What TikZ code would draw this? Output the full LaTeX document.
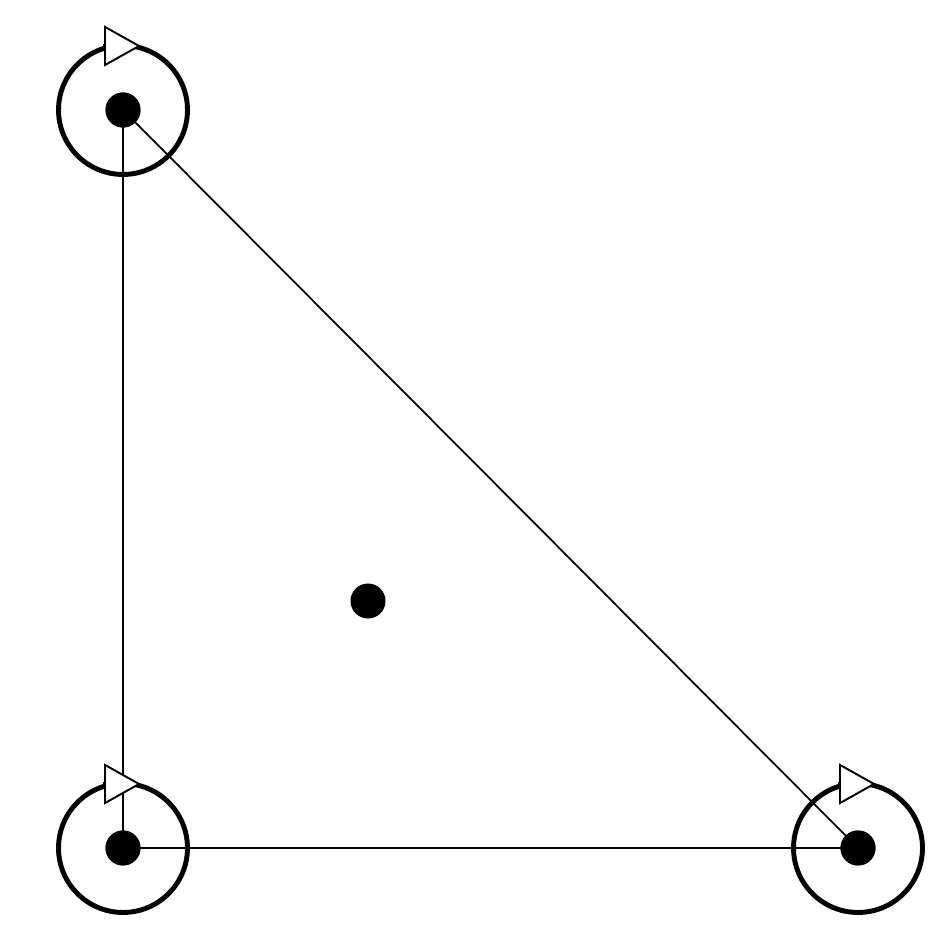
\documentclass[tikz,border=0pt]{standalone}
\usetikzlibrary{arrows.meta}
\tikzstyle{dotnode} = [circle, fill=black, inner sep=0pt, minimum size=0.7cm]
\tikzstyle{ring} = [line width=2.8pt]
\tikzstyle{spin} = [line width=2.8pt, -{Triangle[fill=white, length=7.4mm, width=8.2mm, line width=1.1pt]}]
\tikzstyle{edge} = [line width=1pt]

\begin{document}
\begin{tikzpicture}[x=0.02cm, y=0.02cm]
        \useasboundingbox (0,0) rectangle (951,952);
        \node (top) [dotnode] at (123,842) {};
        \node (botleft) [dotnode] at (123,104) {};
        \node (botright) [dotnode] at (858,104) {};
        \node (mid) [dotnode] at (368,351) {};

        \draw [edge] (top.center) -- (botleft.center);
        \draw [edge] (botleft.center) -- (botright.center);
        \draw [edge] (top.center) -- (botright.center);

        % rings with rotation arrows
        \foreach \v in {top, botleft, botright} {
            \draw [ring] (\v.center) circle (1.29cm);
            \draw [spin] ([shift={(-20,64)}]\v.center) -- ([shift={(18,64)}]\v.center);
            \node [dotnode] at (\v.center) {};
        }
    \end{tikzpicture}
\end{document}
